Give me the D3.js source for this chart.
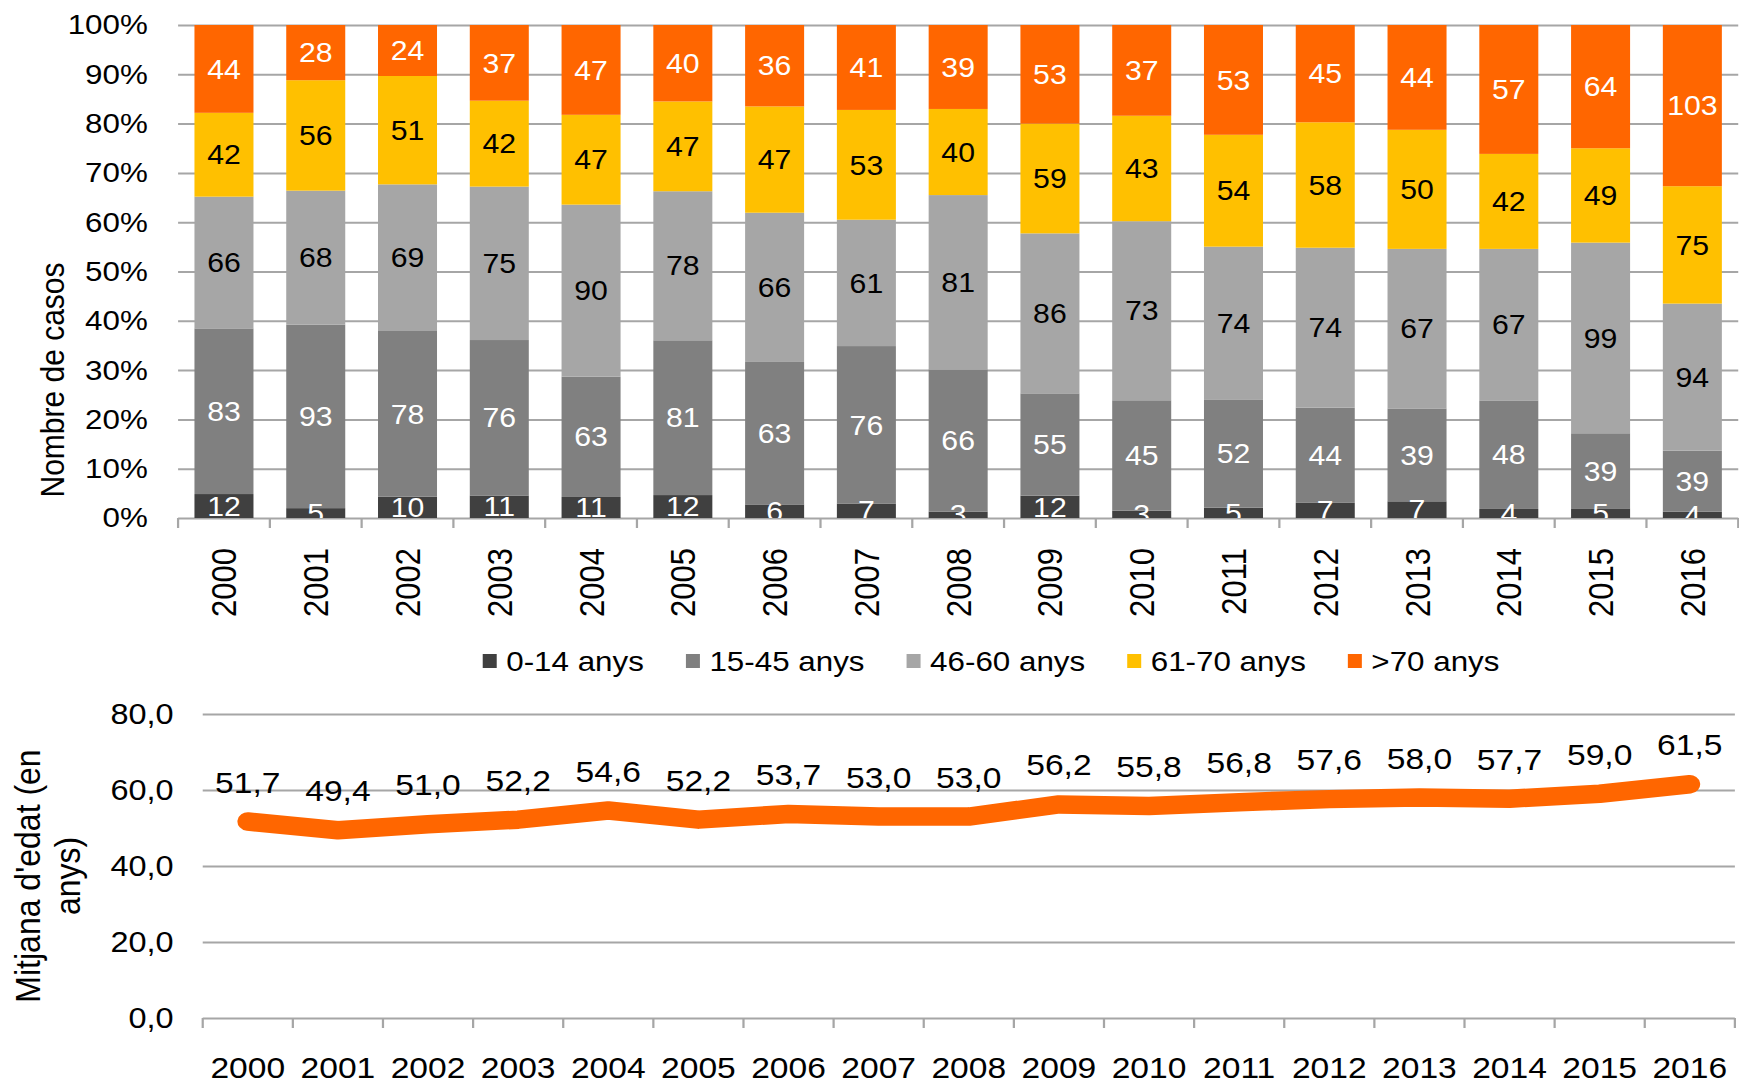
<!DOCTYPE html>
<html>
<head>
<meta charset="utf-8">
<script src="https://cdn.jsdelivr.net/npm/d3@7"></script>
<style>
body { margin: 0; background: #fff; }
text { font-family: "Liberation Sans", Arial, sans-serif; }
</style>
</head>
<body>
<svg id="chart"></svg>
<script>
// data
var years = ["2000","2001","2002","2003","2004","2005","2006","2007","2008","2009","2010","2011","2012","2013","2014","2015","2016"];
var ageGroups = ["0-14 anys", "15-45 anys", "46-60 anys", "61-70 anys", ">70 anys"];
var cases0_14   = [12, 5, 10, 11, 11, 12, 6, 7, 3, 12, 3, 5, 7, 7, 4, 5, 4];
var cases15_45  = [83, 93, 78, 76, 63, 81, 63, 76, 66, 55, 45, 52, 44, 39, 48, 39, 39];
var cases46_60  = [66, 68, 69, 75, 90, 78, 66, 61, 81, 86, 73, 74, 74, 67, 67, 99, 94];
var cases61_70  = [42, 56, 51, 42, 47, 47, 47, 53, 40, 59, 43, 54, 58, 50, 42, 49, 75];
var cases70plus = [44, 28, 24, 37, 47, 40, 36, 41, 39, 53, 37, 53, 45, 44, 57, 64, 103];
var meanAge = [51.7, 49.4, 51.0, 52.2, 54.6, 52.2, 53.7, 53.0, 53.0, 56.2, 55.8, 56.8, 57.6, 58.0, 57.7, 59.0, 61.5];
var pctTicks = [0, 0.1, 0.2, 0.3, 0.4, 0.5, 0.6, 0.7, 0.8, 0.9, 1];
var ageTicks = [0, 20, 40, 60, 80];

var colors = ["#404040", "#808080", "#a6a6a6", "#ffc000", "#ff6600"];
var labelColors = ["#fff", "#fff", "#000", "#000", "#fff"];

// the original picture is a bit wider than tall, so draw in a squeezed box
var W = 1739, H = 1084, sx = 1.12, VW = W / sx;

var svg = d3.select("#chart")
    .attr("width", W)
    .attr("height", H)
    .attr("viewBox", [0, 0, VW, H])
    .attr("preserveAspectRatio", "none");

var caFormat = d3.formatLocale({ decimal: ",", thousands: ".", grouping: [3], currency: ["", "€"] }).format(".1f");

// ---------- top chart: stacked 100% bars ----------
var pT = { left: 159, right: 1552, top: 25, bottom: 518 };

var x = d3.scaleBand().domain(years).range([pT.left, pT.right]).paddingInner(0.357).paddingOuter(0.1785);
var y = d3.scaleLinear().domain([0, 1]).range([pT.bottom, pT.top]);

var yAxis = svg.append("g")
    .attr("transform", "translate(" + pT.left + ",0)")
    .call(d3.axisLeft(y).tickValues(pctTicks).tickFormat(d3.format(".0%"))
        .tickSizeInner(-(pT.right - pT.left)).tickSizeOuter(0).tickPadding(27));
yAxis.select(".domain").remove();
yAxis.selectAll("line").attr("stroke", "#a6a6a6").attr("stroke-width", 2);
yAxis.selectAll("text").attr("font-size", 28).attr("fill", "#000").style("font-family", "'Liberation Sans', Arial, sans-serif");

// category boundary ticks
svg.append("g").selectAll("line")
    .data(d3.range(years.length + 1))
    .enter().append("line")
    .attr("x1", function (i) { return x.range()[0] + i * x.step(); })
    .attr("x2", function (i) { return x.range()[0] + i * x.step(); })
    .attr("y1", pT.bottom).attr("y2", pT.bottom + 10)
    .attr("stroke", "#a6a6a6").attr("stroke-width", 2);

var rows = years.map(function (yr, i) {
    return [cases0_14[i], cases15_45[i], cases46_60[i], cases61_70[i], cases70plus[i]];
});
var series = d3.stack().keys(d3.range(ageGroups.length))
    .value(function (d, k) { return d[k]; })
    .offset(d3.stackOffsetExpand)(rows);

svg.append("defs").append("clipPath").attr("id", "plotClip")
    .append("rect")
    .attr("x", pT.left).attr("y", pT.top)
    .attr("width", pT.right - pT.left).attr("height", pT.bottom - pT.top);

var layers = svg.append("g").selectAll("g")
    .data(series)
    .enter().append("g")
    .attr("fill", function (s) { return colors[s.key]; });

layers.selectAll("rect")
    .data(function (s) { return s; })
    .enter().append("rect")
    .attr("x", function (d, i) { return x(years[i]); })
    .attr("y", function (d) { return y(d[1]); })
    .attr("width", x.bandwidth())
    .attr("height", function (d) { return y(d[0]) - y(d[1]); });

var labels = svg.append("g").attr("clip-path", "url(#plotClip)");
series.forEach(function (s) {
    labels.append("g").selectAll("text")
        .data(s)
        .enter().append("text")
        .attr("x", function (d, i) { return x(years[i]) + x.bandwidth() / 2; })
        .attr("y", function (d) { return (y(d[0]) + y(d[1])) / 2; })
        .attr("dy", "0.36em")
        .attr("text-anchor", "middle")
        .attr("font-size", 27)
        .attr("fill", labelColors[s.key])
        .text(function (d) { return d.data[s.key]; });
});

// rotated year labels
svg.append("g").selectAll("text")
    .data(years)
    .enter().append("text")
    .attr("transform", function (d) { return "translate(" + (x(d) + x.bandwidth() / 2) + ",548) rotate(-90)"; })
    .attr("dy", "0.36em")
    .attr("text-anchor", "end")
    .attr("font-size", 31)
    .text(function (d) { return d; });

svg.append("text")
    .attr("transform", "translate(46,380) rotate(-90)")
    .attr("dy", "0.36em")
    .attr("text-anchor", "middle")
    .attr("font-size", 30)
    .text("Nombre de casos");

// legend
var legend = svg.append("g");
var lx = 431;
ageGroups.forEach(function (name, k) {
    legend.append("rect")
        .attr("x", lx).attr("y", 654)
        .attr("width", 12.5).attr("height", 14)
        .attr("fill", colors[k]);
    var t = legend.append("text")
        .attr("x", lx + 21).attr("y", 661)
        .attr("dy", "0.36em")
        .attr("font-size", 28)
        .text(name);
    lx += 21 + t.node().getComputedTextLength() + 37.5;
});

// ---------- bottom chart: mean age ----------
var pB = { left: 181, right: 1549, top: 714, bottom: 1018 };

var x2 = d3.scaleBand().domain(years).range([pB.left, pB.right]).paddingInner(0.357).paddingOuter(0.1785);
var y2 = d3.scaleLinear().domain([0, 80]).range([pB.bottom, pB.top]);

var y2Axis = svg.append("g")
    .attr("transform", "translate(" + pB.left + ",0)")
    .call(d3.axisLeft(y2).tickValues(ageTicks).tickFormat(caFormat)
        .tickSizeInner(-(pB.right - pB.left)).tickSizeOuter(0).tickPadding(26));
y2Axis.select(".domain").remove();
y2Axis.selectAll("line").attr("stroke", "#a6a6a6").attr("stroke-width", 2);
y2Axis.selectAll("text").attr("font-size", 29).attr("fill", "#000").style("font-family", "'Liberation Sans', Arial, sans-serif");

svg.append("g").selectAll("line")
    .data(d3.range(years.length + 1))
    .enter().append("line")
    .attr("x1", function (i) { return x2.range()[0] + i * x2.step(); })
    .attr("x2", function (i) { return x2.range()[0] + i * x2.step(); })
    .attr("y1", pB.bottom).attr("y2", pB.bottom + 10)
    .attr("stroke", "#a6a6a6").attr("stroke-width", 2);

var cx2 = function (d, i) { return x2(years[i]) + x2.bandwidth() / 2; };

svg.append("path")
    .datum(meanAge)
    .attr("fill", "none")
    .attr("stroke", "#ff6600")
    .attr("stroke-width", 18.5)
    .attr("stroke-linejoin", "round")
    .attr("stroke-linecap", "round")
    .attr("d", d3.line().x(cx2).y(function (d) { return y2(d); }));

svg.append("g").selectAll("text")
    .data(meanAge)
    .enter().append("text")
    .attr("x", cx2)
    .attr("y", function (d) { return y2(d) - 29; })
    .attr("text-anchor", "middle")
    .attr("font-size", 30)
    .text(function (d) { return caFormat(d); });

svg.append("g").selectAll("text")
    .data(years)
    .enter().append("text")
    .attr("x", function (d) { return x2(d) + x2.bandwidth() / 2; })
    .attr("y", 1078)
    .attr("text-anchor", "middle")
    .attr("font-size", 30)
    .text(function (d) { return d; });

svg.append("text")
    .attr("transform", "translate(24,876) rotate(-90)")
    .attr("dy", "0.36em")
    .attr("text-anchor", "middle")
    .attr("font-size", 32)
    .text("Mitjana d'edat (en");
svg.append("text")
    .attr("transform", "translate(60,876) rotate(-90)")
    .attr("dy", "0.36em")
    .attr("text-anchor", "middle")
    .attr("font-size", 32)
    .text("anys)");
</script>
</body>
</html>
